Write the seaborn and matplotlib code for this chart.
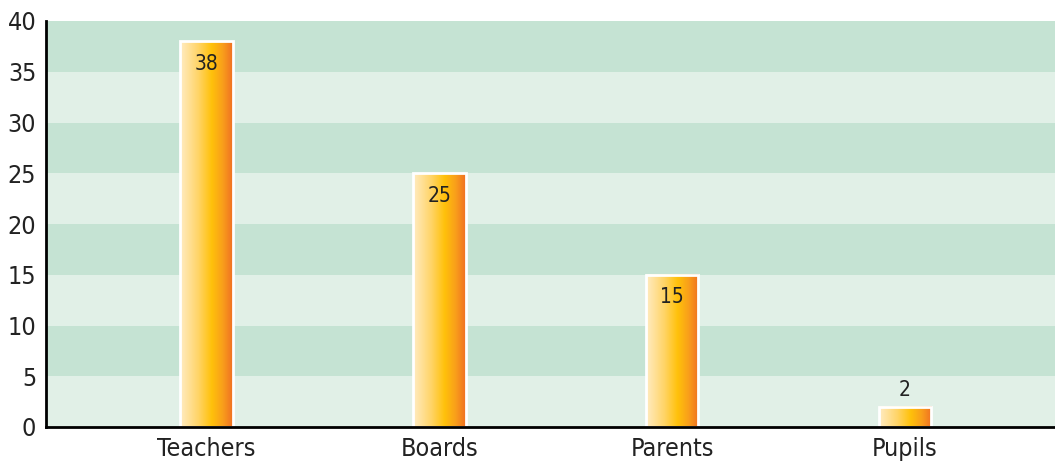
import numpy as np
import pandas as pd
import matplotlib
matplotlib.use("Agg")
import matplotlib.pyplot as plt
from matplotlib.colors import LinearSegmentedColormap
from matplotlib.patches import Rectangle
import seaborn as sns

categories = ["Teachers", "Boards", "Parents", "Pupils"]
values = [38, 25, 15, 2]

df = pd.DataFrame({"group": categories, "count": values})

sns.set_style("white")
plt.rcParams["font.family"] = ["DejaVu Sans"]
plt.rcParams["font.stretch"] = "condensed"

fig = plt.figure(figsize=(10.55, 4.62), dpi=100)
ax = fig.add_axes([46 / 1055, 35 / 462, 1 - 46 / 1055, (427 - 21) / 462])

sns.barplot(data=df, x="group", y="count", ax=ax, width=0.225,
            color="#ffc000", linewidth=0, zorder=2)
bars = list(ax.containers[0])

# striped background bands
dark, light = "#c5e3d3", "#e1f0e7"
for i, lo in enumerate(range(0, 40, 5)):
    ax.axhspan(lo, lo + 5, color=light if i % 2 == 0 else dark, lw=0, zorder=0)

# horizontal gradient fill on each bar
grad = LinearSegmentedColormap.from_list(
    "bar", [(0, "#ffecc4"), (0.35, "#ffd466"), (0.6, "#ffc10a"),
            (0.8, "#f9a01a"), (1, "#f07024")])
g = np.linspace(0, 1, 256).reshape(1, -1)
for p in bars:
    x0, y0, w, h = p.get_x(), p.get_y(), p.get_width(), p.get_height()
    ax.imshow(g, cmap=grad, aspect="auto", extent=[x0, x0 + w, y0, y0 + h], zorder=3)
    ax.add_patch(Rectangle((x0, y0), w, h, fill=False, edgecolor="white", lw=2, zorder=4))
    p.set_alpha(0)

# value labels
for i, v in enumerate(values):
    if v > 5:
        ax.text(i, v - 2.2, str(v), ha="center", va="center", fontsize=15, color="#222222", zorder=5)
    else:
        ax.text(i, v + 1.6, str(v), ha="center", va="center", fontsize=15, color="#222222", zorder=5)

ax.set_xlim(-0.69, 3.645)
ax.set_ylim(0, 40)
ax.set_yticks(range(0, 41, 5))
ax.set_xlabel("")
ax.set_ylabel("")
ax.tick_params(axis="both", length=0, labelsize=18, colors="#222222")
ax.tick_params(axis="y", pad=7)
ax.tick_params(axis="x", pad=7)

for s in ["top", "right"]:
    ax.spines[s].set_visible(False)
for s in ["left", "bottom"]:
    ax.spines[s].set_color("black")
    ax.spines[s].set_linewidth(2)
    ax.spines[s].set_zorder(6)

fig.savefig("out.png", dpi=100)
